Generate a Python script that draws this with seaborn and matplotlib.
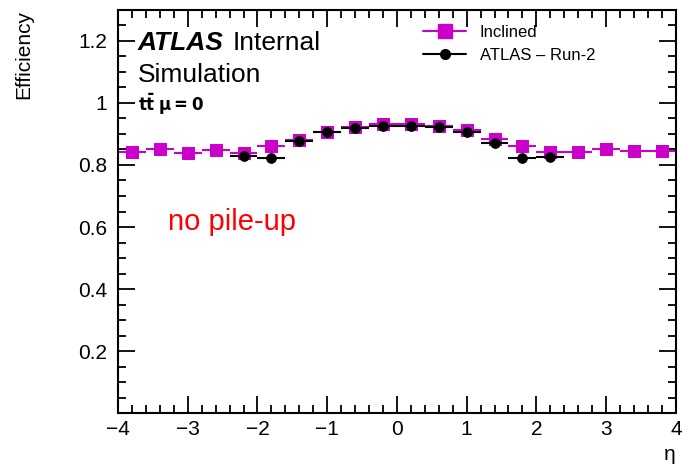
import numpy as np
import pandas as pd
import matplotlib
matplotlib.use("Agg")
import matplotlib.pyplot as plt
import seaborn as sns
from matplotlib.ticker import MultipleLocator
from matplotlib.lines import Line2D

# Data (bin centres, width 0.4)
eta_incl = [-3.8, -3.4, -3.0, -2.6, -2.2, -1.8, -1.4, -1.0, -0.6, -0.2,
            0.2, 0.6, 1.0, 1.4, 1.8, 2.2, 2.6, 3.0, 3.4, 3.8]
eff_incl = [0.842, 0.850, 0.840, 0.848, 0.840, 0.862, 0.882, 0.905, 0.922, 0.932,
            0.932, 0.925, 0.912, 0.885, 0.860, 0.842, 0.842, 0.850, 0.845, 0.845]
eta_run2 = [-2.2, -1.8, -1.4, -1.0, -0.6, -0.2, 0.2, 0.6, 1.0, 1.4, 1.8, 2.2]
eff_run2 = [0.828, 0.822, 0.876, 0.905, 0.920, 0.927,
            0.927, 0.922, 0.905, 0.872, 0.822, 0.825]
half_bin = 0.2

x_ticks = [-4, -3, -2, -1, 0, 1, 2, 3, 4]
x_labels = ["\u22124", "\u22123", "\u22122", "\u22121", "0", "1", "2", "3", "4"]
y_ticks = [0.2, 0.4, 0.6, 0.8, 1.0, 1.2]
y_labels = ["0.2", "0.4", "0.6", "0.8", "1", "1.2"]

sns.set_theme(style="ticks")
plt.rcParams['font.family'] = ['Liberation Sans', 'DejaVu Sans']
plt.rcParams['text.color'] = 'black'
plt.rcParams['axes.labelcolor'] = 'black'
plt.rcParams['xtick.color'] = 'black'
plt.rcParams['ytick.color'] = 'black'

df_incl = pd.DataFrame({"eta": eta_incl, "eff": eff_incl})
df_run2 = pd.DataFrame({"eta": eta_run2, "eff": eff_run2})

fig = plt.figure(figsize=(6.82, 4.69), dpi=100)
ax = fig.add_axes([0.173, 0.119, 0.818, 0.860])

magenta = "#cc00cc"
ax.errorbar(df_incl["eta"], df_incl["eff"], xerr=half_bin, fmt="none",
            ecolor=magenta, elinewidth=1.5, zorder=2)
sns.scatterplot(data=df_incl, x="eta", y="eff", marker="s", s=85,
                color=magenta, edgecolor=magenta, ax=ax, zorder=3)
ax.errorbar(df_run2["eta"], df_run2["eff"], xerr=half_bin, fmt="none",
            ecolor="black", elinewidth=1.5, zorder=4)
sns.scatterplot(data=df_run2, x="eta", y="eff", marker="o", s=50,
                color="black", edgecolor="black", ax=ax, zorder=5)

ax.set_xlim(-4, 4)
ax.set_ylim(0, 1.3)
ax.set_xticks(x_ticks)
ax.set_xticklabels(x_labels)
ax.set_yticks(y_ticks)
ax.set_yticklabels(y_labels)
ax.xaxis.set_minor_locator(MultipleLocator(0.2))
ax.yaxis.set_minor_locator(MultipleLocator(0.05))
ax.tick_params(which="both", direction="in", top=True, right=True, labelsize=15,
               width=1.3, color="black")
ax.tick_params(which="major", length=12)
ax.tick_params(axis="x", which="major", pad=5)
ax.tick_params(axis="y", which="major", pad=8)
ax.tick_params(which="minor", length=6)
for sp in ax.spines.values():
    sp.set_linewidth(1.5)
    sp.set_color("black")

ax.set_xlabel("\u03b7", fontsize=15, loc="right")
ax.set_ylabel("Efficiency", fontsize=15, loc="top", labelpad=32)

ax.text(0.035, 0.90, "ATLAS", transform=ax.transAxes, fontsize=19,
        fontweight="bold", fontstyle="italic")
ax.text(0.205, 0.90, "Internal", transform=ax.transAxes, fontsize=19)
ax.text(0.035, 0.822, "Simulation", transform=ax.transAxes, fontsize=19)
ax.text(0.035, 0.748, r"$\mathbf{t\bar{t}}$ $\mathbf{\mu = 0}$", transform=ax.transAxes,
        fontsize=12)
ax.text(0.09, 0.455, "no pile-up", transform=ax.transAxes, fontsize=21, color="red")

handles = [Line2D([], [], color=magenta, marker="s", markersize=10, lw=1.5),
           Line2D([], [], color="black", marker="o", markersize=7, lw=1.5)]
leg = ax.legend(handles, ["Inclined", "ATLAS \u2013 Run-2"], loc="upper left",
                bbox_to_anchor=(0.52, 1.0), frameon=False, fontsize=12,
                handlelength=2.6, labelspacing=0.5)

fig.savefig("out.png", dpi=100)
